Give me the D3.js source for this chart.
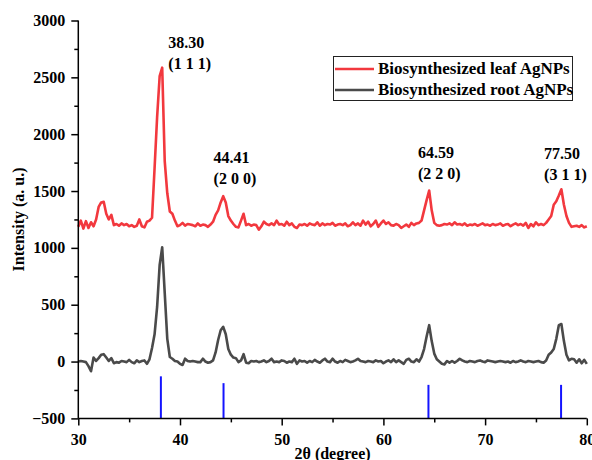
<!DOCTYPE html>
<html>
<head>
<meta charset="utf-8">
<script src="https://cdn.jsdelivr.net/npm/d3@7"></script>
<style>
  html, body { margin: 0; padding: 0; background: #fff; }
  svg { display: block; }
  text { font-family: "Liberation Serif", "Times New Roman", serif; font-weight: bold; fill: #000; }
</style>
</head>
<body>
<svg id="chart" width="592" height="460"></svg>
<script>
// ---- data ----
const twoTheta = [
30.00,30.25,30.50,30.75,31.00,31.25,31.50,31.75,32.00,32.25,32.50,32.75,33.00,33.25,33.50,33.75,34.00,34.25,34.50,34.75,
35.00,35.25,35.50,35.75,36.00,36.25,36.50,36.75,37.00,37.25,37.50,37.75,38.00,38.25,38.50,38.75,39.00,39.25,39.50,39.75,
40.00,40.25,40.50,40.75,41.00,41.25,41.50,41.75,42.00,42.25,42.50,42.75,43.00,43.25,43.50,43.75,44.00,44.25,44.50,44.75,
45.00,45.25,45.50,45.75,46.00,46.25,46.50,46.75,47.00,47.25,47.50,47.75,48.00,48.25,48.50,48.75,49.00,49.25,49.50,49.75,
50.00,50.25,50.50,50.75,51.00,51.25,51.50,51.75,52.00,52.25,52.50,52.75,53.00,53.25,53.50,53.75,54.00,54.25,54.50,54.75,
55.00,55.25,55.50,55.75,56.00,56.25,56.50,56.75,57.00,57.25,57.50,57.75,58.00,58.25,58.50,58.75,59.00,59.25,59.50,59.75,
60.00,60.25,60.50,60.75,61.00,61.25,61.50,61.75,62.00,62.25,62.50,62.75,63.00,63.25,63.50,63.75,64.00,64.25,64.50,64.75,
65.00,65.25,65.50,65.75,66.00,66.25,66.50,66.75,67.00,67.25,67.50,67.75,68.00,68.25,68.50,68.75,69.00,69.25,69.50,69.75,
70.00,70.25,70.50,70.75,71.00,71.25,71.50,71.75,72.00,72.25,72.50,72.75,73.00,73.25,73.50,73.75,74.00,74.25,74.50,74.75,
75.00,75.25,75.50,75.75,76.00,76.25,76.50,76.75,77.00,77.25,77.50,77.75,78.00,78.25,78.50,78.75,79.00,79.25,79.50,79.75,
80.00];

const leafIntensity = [
1185,1240,1170,1235,1175,1225,1190,1250,1360,1400,1405,1300,1250,1290,1200,1210,1195,1215,1200,1210,
1190,1200,1185,1195,1250,1190,1180,1230,1240,1265,1700,2150,2510,2585,1760,1480,1320,1300,1240,1190,
1200,1220,1195,1210,1205,1200,1190,1215,1195,1205,1200,1185,1205,1230,1290,1330,1400,1455,1400,1280,
1240,1210,1185,1180,1240,1300,1200,1210,1195,1205,1200,1160,1190,1230,1210,1200,1215,1200,1240,1205,
1210,1195,1230,1200,1215,1185,1175,1205,1200,1210,1195,1215,1205,1200,1225,1195,1215,1200,1210,1205,
1220,1195,1205,1210,1200,1215,1190,1200,1225,1200,1215,1195,1240,1205,1230,1190,1210,1240,1185,1215,
1240,1210,1225,1200,1195,1210,1200,1175,1190,1205,1185,1220,1200,1215,1220,1240,1330,1420,1505,1330,
1220,1200,1195,1200,1210,1205,1215,1200,1225,1205,1210,1200,1215,1195,1205,1200,1210,1195,1205,1215,
1200,1205,1195,1210,1200,1205,1215,1195,1205,1210,1190,1205,1215,1200,1210,1195,1220,1175,1210,1190,
1225,1200,1210,1200,1220,1250,1280,1380,1410,1460,1515,1380,1280,1220,1185,1190,1195,1185,1200,1180,
1190];

const rootIntensity = [
0,5,0,-5,-40,-85,35,5,30,60,65,35,5,30,-15,-5,-10,5,0,-5,
15,-5,-15,10,-5,5,10,-20,20,120,240,480,850,1005,600,200,40,25,5,0,
-20,-30,25,5,0,5,0,-5,-5,25,0,-10,-5,10,80,190,275,305,240,110,
60,35,30,-5,10,65,-10,-15,5,0,5,-5,0,10,-5,5,25,-5,0,-5,
10,5,-10,0,-5,25,-20,10,0,5,-10,5,-5,15,0,-10,10,25,0,-5,
25,0,-10,5,-5,15,5,-5,0,10,25,5,0,-5,5,0,-5,10,0,5,
-15,0,10,-5,20,-5,10,-5,-20,15,25,0,-5,20,0,40,110,220,320,180,
70,20,0,-20,-25,5,-10,5,-10,5,25,10,0,-5,5,0,-5,5,10,0,
-5,10,5,0,-5,0,5,0,-5,0,-10,5,-5,0,10,0,-5,5,0,-5,
0,5,-5,-10,10,60,80,110,200,320,330,180,60,10,25,20,-10,20,-15,15,
-20];

// reference (JCPDS Ag) stick positions and their top values
const refPositions = [38.12, 44.28, 64.43, 77.47];
const refTops = [-130, -190, -205, -205];

const peakLabels = ["38.30", "44.41", "64.59", "77.50"];
const peakPlanes = ["(1 1 1)", "(2 0 0)", "(2 2 0)", "(3 1 1)"];
const peakLabelX = [38.85, 43.3, 63.4, 75.8];
const peakLabelY = [2760, 1745, 1790, 1780];

const seriesNames = ["Biosynthesized leaf AgNPs", "Biosynthesized root AgNPs"];
const seriesColors = ["#f2383e", "#4a4a4a"];

const xTicks = [30, 40, 50, 60, 70, 80];
const xMinor = [35, 45, 55, 65, 75];
const yTicks = [-500, 0, 500, 1000, 1500, 2000, 2500, 3000];
const yMinor = [-250, 250, 750, 1250, 1750, 2250, 2750];

// ---- drawing ----
const svg = d3.select("#chart");
const x = d3.scaleLinear().domain([30, 80]).range([78.3, 586.8]);
const y = d3.scaleLinear().domain([-500, 3000]).range([418.4, 20.5]);

// blue reference sticks
svg.append("g").selectAll("line").data(refPositions).join("line")
  .attr("x1", d => x(d)).attr("x2", d => x(d))
  .attr("y1", y(-500)).attr("y2", (d, i) => y(refTops[i]))
  .attr("stroke", "#1414ff").attr("stroke-width", 2);

// series lines
const line = d3.line().x((d, i) => x(twoTheta[i])).y(d => y(d)).curve(d3.curveLinear);
[leafIntensity, rootIntensity].forEach((s, k) => {
  svg.append("path").datum(s)
    .attr("d", line)
    .attr("fill", "none")
    .attr("stroke", seriesColors[k])
    .attr("stroke-width", 2.6)
    .attr("stroke-linejoin", "round");
});

// axes
const fmt = d3.format("d");
const xAxis = svg.append("g").attr("transform", `translate(0,${y(-500)})`)
  .call(d3.axisBottom(x).tickValues(xTicks).tickFormat(fmt).tickSize(7).tickPadding(8));
svg.append("g").attr("transform", `translate(0,${y(-500)})`)
  .call(d3.axisBottom(x).tickValues(xMinor).tickFormat("").tickSize(4))
  .call(g => g.select(".domain").remove());
const yAxis = svg.append("g").attr("transform", `translate(${x(30)},0)`)
  .call(d3.axisLeft(y).tickValues(yTicks).tickFormat(fmt).tickSize(7).tickPadding(6));
svg.append("g").attr("transform", `translate(${x(30)},0)`)
  .call(d3.axisLeft(y).tickValues(yMinor).tickFormat("").tickSize(4))
  .call(g => g.select(".domain").remove());

svg.selectAll(".domain").attr("stroke", "#000").attr("stroke-width", 1.5);
svg.selectAll(".tick line").attr("stroke", "#000").attr("stroke-width", 1.5);
svg.selectAll(".tick text").attr("font-family", "Liberation Serif, serif")
  .attr("font-weight", "bold").attr("font-size", 16).attr("fill", "#000");
xAxis.selectAll(".domain").attr("d", `M${x(30)},0H${x(80)}`);
yAxis.selectAll(".domain").attr("d", `M0,${y(-500)}V${y(3000)}`);

// axis titles
svg.append("text").attr("x", (x(30) + x(80)) / 2).attr("y", 459)
  .attr("text-anchor", "middle").attr("font-size", 16).text("2θ (degree)");
svg.append("text").attr("transform", `translate(24,${(y(-500) + y(3000)) / 2}) rotate(-90)`)
  .attr("text-anchor", "middle").attr("font-size", 16).text("Intensity (a. u.)");

// peak annotations
peakLabels.forEach((t, i) => {
  const g = svg.append("text").attr("font-size", 16)
    .attr("x", x(peakLabelX[i])).attr("y", y(peakLabelY[i]));
  g.append("tspan").attr("x", x(peakLabelX[i])).text(t);
  g.append("tspan").attr("x", x(peakLabelX[i])).attr("dy", 21).text(peakPlanes[i]);
});

// legend
const lg = svg.append("g");
lg.append("rect").attr("x", 333.5).attr("y", 56.5).attr("width", 239).attr("height", 44)
  .attr("fill", "#fff").attr("stroke", "#222").attr("stroke-width", 1);
seriesNames.forEach((n, i) => {
  const yy = 69 + i * 21;
  lg.append("line").attr("x1", 335).attr("x2", 374).attr("y1", yy).attr("y2", yy)
    .attr("stroke", seriesColors[i]).attr("stroke-width", 2.6);
  lg.append("text").attr("x", 378).attr("y", yy + 5).attr("font-size", 17).text(n);
});
</script>
</body>
</html>
